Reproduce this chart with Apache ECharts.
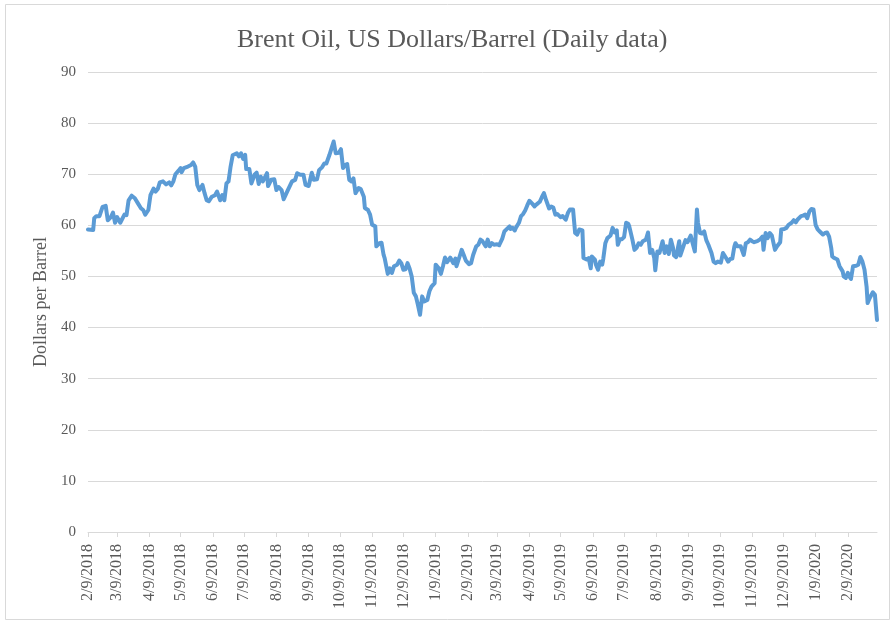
<!DOCTYPE html>
<html>
<head>
<meta charset="utf-8">
<script src="https://cdn.jsdelivr.net/npm/echarts/dist/echarts.min.js"></script>
<style>
html,body{margin:0;padding:0;background:#ffffff;}
#chart{width:892px;height:622px;}
</style>
</head>
<body>
<div id="chart"></div>
<script>
const chartTitle = 'Brent Oil, US Dollars/Barrel (Daily data)';
const yAxisName = 'Dollars per Barrel';
const axisStart = '2018-02-09';
const axisEnd = '2020-03-08';
const tickLabels = ['2/9/2018','3/9/2018','4/9/2018','5/9/2018','6/9/2018','7/9/2018','8/9/2018','9/9/2018','10/9/2018','11/9/2018','12/9/2018','1/9/2019','2/9/2019','3/9/2019','4/9/2019','5/9/2019','6/9/2019','7/9/2019','8/9/2019','9/9/2019','10/9/2019','11/9/2019','12/9/2019','1/9/2020','2/9/2020'];
const yMin = 0, yMax = 90, yStep = 10;

const dates = [
'2018-02-09','2018-02-14','2018-02-15','2018-02-17','2018-02-20','2018-02-23','2018-02-26','2018-02-28',
'2018-03-03','2018-03-05','2018-03-07','2018-03-09','2018-03-12','2018-03-16','2018-03-18','2018-03-20','2018-03-23','2018-03-26','2018-03-29',
'2018-04-01','2018-04-03','2018-04-05','2018-04-08','2018-04-10','2018-04-13','2018-04-15','2018-04-17','2018-04-19','2018-04-22','2018-04-25','2018-04-28','2018-04-30',
'2018-05-02','2018-05-04','2018-05-07','2018-05-09','2018-05-10','2018-05-12','2018-05-16','2018-05-19','2018-05-21','2018-05-23','2018-05-25','2018-05-27','2018-05-30',
'2018-06-01','2018-06-03','2018-06-05','2018-06-08','2018-06-11','2018-06-13','2018-06-16','2018-06-18','2018-06-20','2018-06-22','2018-06-24','2018-06-26','2018-06-28',
'2018-07-02','2018-07-04','2018-07-06','2018-07-08','2018-07-10','2018-07-11','2018-07-14','2018-07-16','2018-07-19','2018-07-21','2018-07-23','2018-07-25','2018-07-27','2018-07-31',
'2018-08-01','2018-08-04','2018-08-07','2018-08-09','2018-08-11','2018-08-14','2018-08-16','2018-08-18','2018-08-20','2018-08-24','2018-08-27','2018-08-29',
'2018-09-01','2018-09-04','2018-09-06','2018-09-09','2018-09-12','2018-09-14','2018-09-17','2018-09-19','2018-09-22','2018-09-24','2018-09-26','2018-09-29',
'2018-10-01','2018-10-03','2018-10-05','2018-10-08','2018-10-10','2018-10-12','2018-10-14','2018-10-16','2018-10-18','2018-10-20','2018-10-22','2018-10-24','2018-10-27','2018-10-29',
'2018-11-01','2018-11-02','2018-11-05','2018-11-07','2018-11-09','2018-11-12','2018-11-13','2018-11-16','2018-11-18','2018-11-20','2018-11-21','2018-11-24','2018-11-26','2018-11-28','2018-11-30',
'2018-12-03','2018-12-05','2018-12-07','2018-12-09','2018-12-11','2018-12-13','2018-12-15','2018-12-17','2018-12-19','2018-12-21','2018-12-23','2018-12-25','2018-12-27','2018-12-29',
'2019-01-01','2019-01-03','2019-01-05','2019-01-08','2019-01-09','2019-01-12','2019-01-14','2019-01-16','2019-01-18','2019-01-20','2019-01-23','2019-01-26','2019-01-28','2019-01-29',
'2019-02-01','2019-02-03','2019-02-05','2019-02-07','2019-02-10','2019-02-12','2019-02-14','2019-02-17','2019-02-19','2019-02-21','2019-02-23','2019-02-26','2019-02-28',
'2019-03-02','2019-03-04','2019-03-06','2019-03-09','2019-03-11','2019-03-14','2019-03-16','2019-03-18','2019-03-21','2019-03-22','2019-03-24','2019-03-26','2019-03-27','2019-03-30',
'2019-04-01','2019-04-03','2019-04-05','2019-04-07','2019-04-09','2019-04-12','2019-04-14','2019-04-16','2019-04-19','2019-04-21','2019-04-23','2019-04-25','2019-04-28','2019-04-30',
'2019-05-02','2019-05-04','2019-05-06','2019-05-09','2019-05-11','2019-05-14','2019-05-16','2019-05-18','2019-05-21','2019-05-23','2019-05-25','2019-05-27','2019-05-30','2019-05-31',
'2019-06-03','2019-06-05','2019-06-07','2019-06-08','2019-06-11','2019-06-12','2019-06-14','2019-06-16','2019-06-18','2019-06-19','2019-06-21','2019-06-23','2019-06-26','2019-06-28','2019-06-30',
'2019-07-02','2019-07-03','2019-07-05','2019-07-07','2019-07-09','2019-07-11','2019-07-13','2019-07-14','2019-07-17','2019-07-19','2019-07-21','2019-07-23','2019-07-25','2019-07-27','2019-07-30',
'2019-08-01','2019-08-03','2019-08-05','2019-08-07','2019-08-08','2019-08-10','2019-08-12','2019-08-15','2019-08-17','2019-08-19','2019-08-21','2019-08-23','2019-08-25','2019-08-26','2019-08-28','2019-08-31',
'2019-09-01','2019-09-04','2019-09-06','2019-09-08','2019-09-11','2019-09-13','2019-09-15','2019-09-17','2019-09-18','2019-09-20','2019-09-22','2019-09-24','2019-09-26','2019-09-28',
'2019-10-01','2019-10-03','2019-10-05','2019-10-07','2019-10-10','2019-10-12','2019-10-15','2019-10-17','2019-10-19','2019-10-21','2019-10-23','2019-10-24','2019-10-26','2019-10-29',
'2019-11-01','2019-11-03','2019-11-05','2019-11-07','2019-11-09','2019-11-11','2019-11-14','2019-11-17','2019-11-19','2019-11-20','2019-11-22','2019-11-24','2019-11-26','2019-11-28',
'2019-12-01','2019-12-03','2019-12-06','2019-12-07','2019-12-10','2019-12-12','2019-12-14','2019-12-17','2019-12-19','2019-12-21','2019-12-23','2019-12-26','2019-12-28','2019-12-30',
'2020-01-01','2020-01-03','2020-01-05','2020-01-07','2020-01-09','2020-01-11','2020-01-13','2020-01-16','2020-01-18','2020-01-20','2020-01-22','2020-01-24','2020-01-25','2020-01-27','2020-01-30',
'2020-02-01','2020-02-04','2020-02-05','2020-02-07','2020-02-09','2020-02-10','2020-02-12','2020-02-14','2020-02-17','2020-02-19','2020-02-21','2020-02-23','2020-02-25','2020-02-27','2020-02-28',
'2020-03-01','2020-03-04','2020-03-06','2020-03-08'
];

const prices = [
59.2,59.1,61.4,61.8,61.8,63.6,63.8,61.0,
61.6,62.5,60.5,61.6,60.5,62.1,62.0,64.9,65.8,65.3,64.3,
63.3,63.0,62.1,63.0,65.9,67.2,66.6,67.1,68.4,68.6,68.0,68.4,67.8,
68.6,70.0,70.7,71.2,70.4,71.2,71.5,71.8,72.3,71.5,67.9,66.9,67.9,
66.3,64.9,64.7,65.6,65.9,66.6,64.9,65.9,64.9,68.2,68.6,71.5,73.7,
74.1,73.5,74.1,73.0,73.8,71.0,71.0,68.2,69.9,70.3,68.1,69.5,68.6,70.2,
67.7,68.9,69.0,66.9,67.5,66.9,65.1,66.0,66.9,68.6,68.9,70.2,
69.9,69.9,67.9,67.7,70.3,68.9,69.0,70.8,71.4,72.1,72.1,73.8,
75.1,76.4,74.1,74.2,74.9,71.2,71.8,72.0,68.9,68.6,69.2,66.3,67.3,67.1,
65.6,63.4,63.0,62.1,60.1,59.8,55.9,56.5,56.6,54.2,53.6,50.5,51.6,50.7,52.0,
52.3,53.1,52.6,51.3,51.4,52.6,51.5,50.0,46.8,46.1,44.4,42.5,46.1,45.1,
45.4,47.1,48.0,48.7,52.3,51.6,50.5,52.0,53.7,52.8,53.7,52.6,53.5,52.0,
53.9,55.2,54.2,53.1,52.4,52.6,54.2,55.9,56.2,57.2,56.9,55.9,57.2,
55.9,56.5,56.2,56.3,56.1,57.4,58.8,59.2,59.8,59.3,59.5,59.0,59.5,60.5,
61.8,62.2,62.9,63.9,64.8,64.2,63.7,64.1,64.6,65.5,66.3,65.0,63.3,63.7,
63.5,62.1,62.2,61.6,61.8,61.1,62.4,63.1,63.1,58.5,58.2,59.2,59.0,53.6,
53.3,53.6,51.6,53.9,53.3,52.3,51.3,52.9,52.3,53.4,56.5,57.5,58.0,59.5,58.6,
59.0,56.2,57.3,57.3,57.7,60.5,60.3,59.8,57.2,55.2,55.6,56.5,56.2,56.9,57.2,
58.6,54.6,55.2,53.6,51.2,54.9,54.6,56.9,54.6,55.9,54.4,57.2,55.6,54.1,53.8,56.9,
54.1,55.9,57.1,56.7,58.0,56.4,54.9,63.1,60.5,58.5,58.4,58.8,57.1,56.2,
54.6,52.9,52.6,52.9,52.7,54.6,53.6,52.9,53.4,53.5,55.9,56.5,55.9,55.9,
54.2,56.5,56.7,57.2,56.9,56.7,56.9,57.3,57.8,55.2,58.5,57.5,58.5,58.0,
55.2,55.9,56.7,59.2,59.3,59.5,60.1,60.5,61.0,60.6,61.2,61.8,61.9,62.1,
61.4,62.7,63.2,63.1,60.1,59.2,58.8,58.2,58.5,58.6,57.8,55.6,53.9,53.6,53.3,
52.0,51.0,50.0,49.7,50.7,50.1,49.5,52.0,52.1,52.3,53.8,52.9,51.3,48.0,44.8,
45.8,46.9,46.4,41.5
];

function isoToLabel(s) {
  const p = s.split('-');
  return (+p[1]) + '/' + (+p[2]) + '/' + p[0];
}

// calendar-day categories for the date axis
const categories = [];
for (let t = Date.parse(axisStart + 'T00:00:00Z'); t <= Date.parse(axisEnd + 'T00:00:00Z'); t += 86400000) {
  const d = new Date(t);
  categories.push((d.getUTCMonth() + 1) + '/' + d.getUTCDate() + '/' + d.getUTCFullYear());
}
const catIndex = {};
categories.forEach((c, i) => { catIndex[c] = i; });
const seriesData = categories.map(() => null);
dates.forEach((s, i) => {
  const k = catIndex[isoToLabel(s)];
  if (k !== undefined) seriesData[k] = prices[i];
});

const showTick = (idx, val) => tickLabels.indexOf(val) >= 0;
const serif = "'Liberation Serif', 'Times New Roman', serif";
const textGray = '#595959';
const lineGray = '#d9d9d9';

const chart = echarts.init(document.getElementById('chart'), null, {renderer: 'canvas'});
chart.setOption({
  animation: false,
  backgroundColor: '#ffffff',
  title: {
    text: chartTitle,
    left: 232,
    top: 22,
    textStyle: {fontFamily: serif, fontSize: 26, fontWeight: 'normal', color: textGray}
  },
  graphic: [{
    type: 'rect', silent: true,
    shape: {x: 5.5, y: 4.5, width: 884, height: 615},
    style: {fill: 'none', stroke: lineGray, lineWidth: 1}
  }],
  grid: {left: 88, right: 15, top: 72, bottom: 90, containLabel: false},
  xAxis: {
    type: 'category',
    data: categories,
    boundaryGap: false,
    axisLine: {show: true, lineStyle: {color: lineGray, width: 1}},
    axisTick: {show: true, interval: showTick, length: 5, lineStyle: {color: lineGray}},
    axisLabel: {interval: showTick, rotate: 90, margin: 12, fontFamily: serif, fontSize: 16, color: textGray},
    splitLine: {show: false}
  },
  yAxis: {
    type: 'value',
    min: yMin, max: yMax, interval: yStep,
    name: yAxisName,
    nameLocation: 'middle',
    nameGap: 37,
    nameTextStyle: {fontFamily: serif, fontSize: 18, color: textGray},
    axisLine: {show: false},
    axisTick: {show: false},
    axisLabel: {margin: 12, fontFamily: serif, fontSize: 15, color: textGray},
    splitLine: {show: true, lineStyle: {color: lineGray, width: 1}}
  },
  series: [{
    type: 'line',
    data: seriesData,
    connectNulls: true,
    showSymbol: false,
    symbol: 'none',
    lineStyle: {color: '#5b9bd5', width: 4, cap: 'round', join: 'round'},
    itemStyle: {color: '#5b9bd5'}
  }]
});
</script>
</body>
</html>
